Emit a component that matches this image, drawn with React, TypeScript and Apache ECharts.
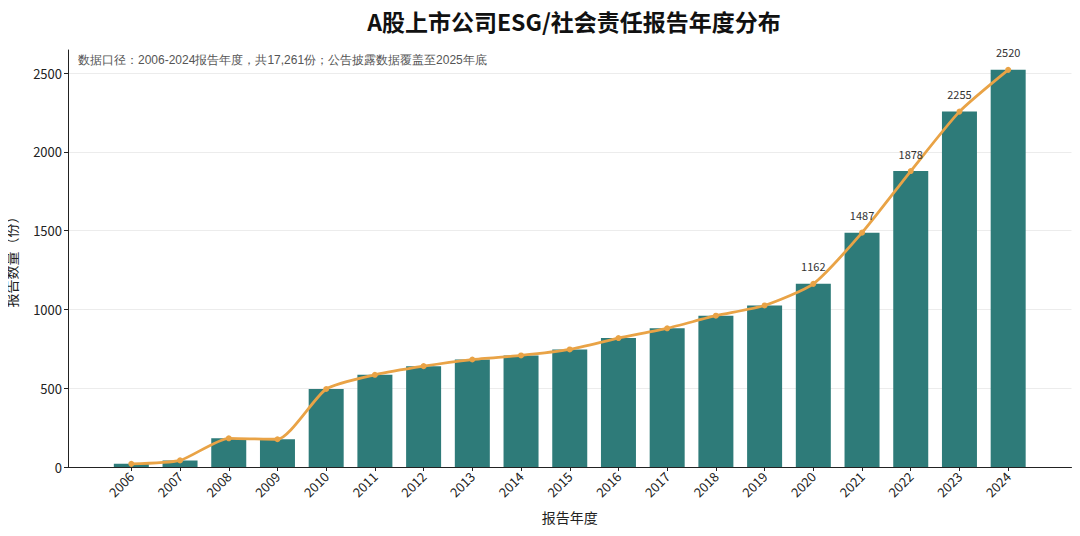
import { useEffect, useRef } from "react";
import * as echarts from "echarts";

const years = [
  2006, 2007, 2008, 2009, 2010, 2011, 2012, 2013, 2014, 2015, 2016, 2017, 2018,
  2019, 2020, 2021, 2022, 2023, 2024,
];
const counts = [
  20, 42, 182, 176, 495, 585, 640, 682, 708, 746, 818, 880, 960, 1025, 1162,
  1487, 1878, 2255, 2520,
];
const labeledYears = [2020, 2021, 2022, 2023, 2024];
const yTicks = [0, 500, 1000, 1500, 2000, 2500];

const title = "A股上市公司ESG/社会责任报告年度分布";
const note = "数据口径：2006-2024报告年度，共17,261份；公告披露数据覆盖至2025年底";

const FONT = "'Noto Sans CJK SC', 'Noto Sans', sans-serif";
const BAR = "#2e7b79";
const LINE = "#e9a346";

export default function App() {
  const chartRef = useRef<HTMLDivElement>(null);

  useEffect(() => {
    if (!chartRef.current) return;
    const chart = echarts.init(chartRef.current, null, { renderer: "svg" });

    const points = years.map((y, i) => [y, counts[i]]);

    const option: echarts.EChartsOption = {
      animation: false,
      backgroundColor: "#fff",
      textStyle: { fontFamily: FONT },
      title: {
        text: title,
        left: 569,
        textAlign: "center",
        top: 4,
        textStyle: { fontSize: 23, fontWeight: "bold", color: "#111", fontFamily: FONT },
      },
      grid: { left: 68, right: 8.5, top: 50, bottom: 69, outerBoundsMode: "none" } as any,
      graphic: [
        {
          type: "text",
          left: 78,
          top: 54,
          style: { text: note, fontSize: 12, fill: "#555", font: `12px ${FONT}` },
        },
      ],
      xAxis: {
        type: "value",
        min: 2004.7,
        max: 2025.3,
        name: "报告年度",
        nameLocation: "middle",
        nameGap: 43,
        nameTextStyle: { fontSize: 14, color: "#222" },
        axisLine: { lineStyle: { color: "#222" } },
        axisTick: { customValues: years, length: 4, lineStyle: { color: "#222" } },
        axisLabel: {
          customValues: years,
          rotate: 45,
          fontSize: 13,
          color: "#222",
          margin: 7,
          formatter: (v: number) => String(v),
        },
        splitLine: { show: false },
      } as any,
      yAxis: {
        type: "value",
        min: 0,
        max: 2646,
        name: "报告数量（份）",
        nameLocation: "middle",
        nameGap: 50,
        nameTextStyle: { fontSize: 14, color: "#222" },
        axisLine: { show: true, lineStyle: { color: "#222" } },
        axisTick: { customValues: yTicks, length: 4, lineStyle: { color: "#222" } },
        axisLabel: {
          customValues: yTicks,
          fontSize: 13,
          color: "#222",
          margin: 6,
          formatter: (v: number) => String(v),
        },
        splitLine: { lineStyle: { color: "#ececec" } },
      } as any,
      series: [
        {
          type: "bar",
          data: points,
          barWidth: 35,
          itemStyle: { color: BAR },
        },
        {
          type: "line",
          data: points,
          smooth: 0.2,
          symbol: "circle",
          symbolSize: 6,
          itemStyle: { color: LINE },
          lineStyle: { color: LINE, width: 2.8 },
          label: {
            show: true,
            position: "top",
            distance: 9,
            fontSize: 11,
            color: "#333",
            formatter: (p: any) =>
              labeledYears.includes(p.value[0]) ? String(p.value[1]) : "",
          },
          z: 3,
        },
      ],
    };

    chart.setOption(option);
    const handleResize = () => chart.resize();
    window.addEventListener("resize", handleResize);
    return () => {
      window.removeEventListener("resize", handleResize);
      chart.dispose();
    };
  }, []);

  return <div ref={chartRef} style={{ width: 1080, height: 536, margin: -8 }} />;
}
